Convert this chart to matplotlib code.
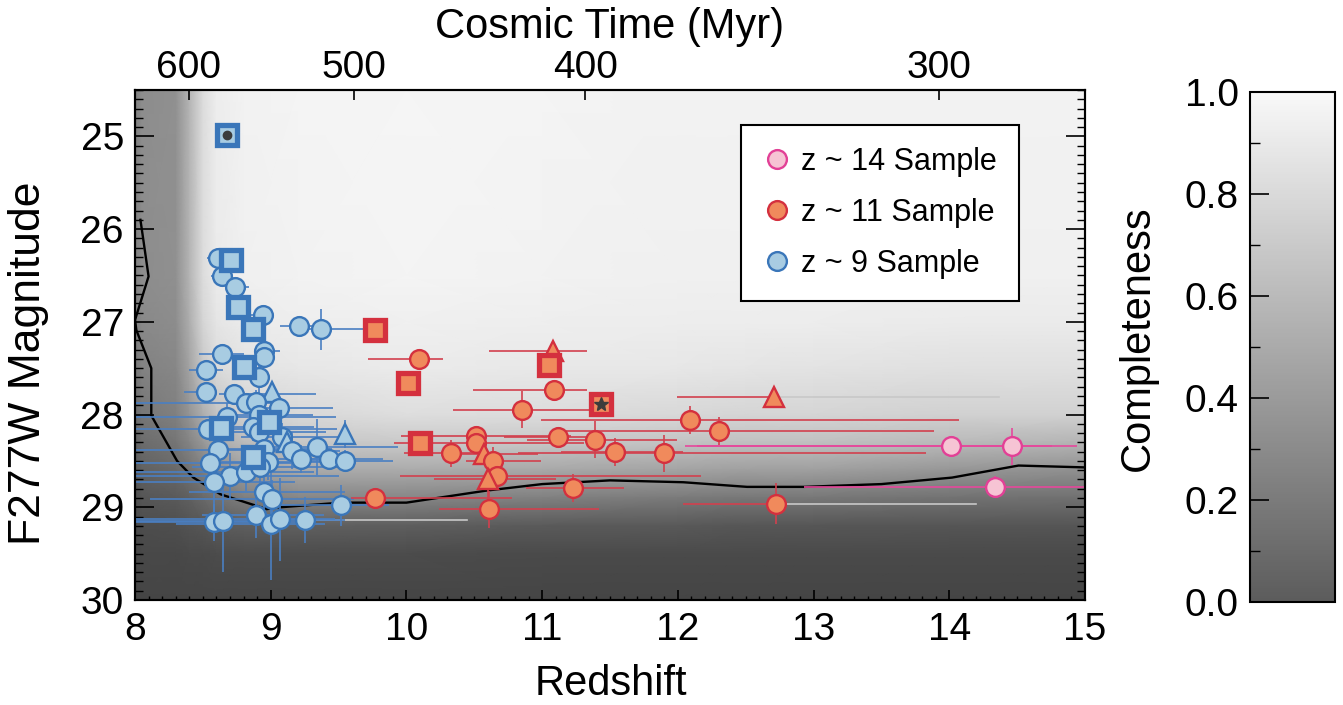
import numpy as np
import matplotlib
matplotlib.use("Agg")
import matplotlib.pyplot as plt
from matplotlib.colors import LinearSegmentedColormap, Normalize
from matplotlib.cm import ScalarMappable
from matplotlib.lines import Line2D
from matplotlib.ticker import MultipleLocator, FixedLocator

plt.rcParams['font.family'] = ['Liberation Sans', 'DejaVu Sans']

# ---------------- data ----------------
# z~9 sample
z9_z = [8.675, 8.61, 8.71, 8.64, 8.74, 8.76, 8.94, 8.87, 9.21, 9.37,
        8.64, 8.95, 8.95, 8.80, 8.52, 8.91, 8.52, 8.73, 9.01, 8.82,
        8.89, 9.06, 8.68, 8.91, 8.99, 8.63, 8.54, 8.87, 8.91, 9.08,
        9.12, 9.16, 9.22, 9.34, 9.43, 9.55, 9.55, 8.61, 8.87, 8.95,
        8.98, 8.55, 8.70, 8.82, 8.92, 8.58, 8.95, 9.01, 9.52, 8.89,
        8.58, 8.65, 9.00, 9.07, 9.25]
z9_mag = [24.98, 26.31, 26.33, 26.51, 26.62, 26.84, 26.93, 27.08, 27.04, 27.08,
          27.35, 27.31, 27.38, 27.49, 27.52, 27.59, 27.76, 27.78, 27.76, 27.88,
          27.86, 27.93, 28.03, 28.01, 28.08, 28.14, 28.16, 28.13, 28.19, 28.24,
          28.30, 28.39, 28.48, 28.35, 28.48, 28.50, 28.21, 28.38, 28.46, 28.37,
          28.51, 28.52, 28.66, 28.62, 28.57, 28.73, 28.84, 28.91, 28.98, 29.08,
          29.16, 29.15, 29.18, 29.13, 29.14]
z9_shape = ['s', 'o', 's', 'o', 'o', 's', 'o', 's', 'o', 'o',
            'o', 'o', 'o', 's', 'o', 'o', 'o', 'o', '^', 'o',
            'o', 'o', 'o', 'o', 's', 's', 'o', 'o', 'o', 'o',
            '^', 'o', 'o', 'o', 'o', 'o', '^', 'o', 's', 'o',
            'o', 'o', 'o', 'o', 'o', 'o', 'o', 'o', 'o', 'o',
            'o', 'o', 'o', 'o', 'o']
z9_zlo = [0, .08, 0, .08, .04, 0, .09, 0, .14, .16,
          .17, .07, .05, 0, .12, .05, .16, .11, 0, .82,
          .08, .20, .68, .30, 0, 0, .54, .30, .40, .30,
          0, .25, .30, .50, .30, .25, 0, .61, 0, .40,
          .35, .55, .70, .82, .50, .58, .55, .90, .55, .40,
          .58, .65, .70, 1.07, .20]
z9_zhi = [0, .04, 0, .04, .10, 0, .04, 0, .10, .40,
          .16, .12, .08, 0, .13, .05, .08, .60, 0, .20,
          .15, .40, .80, .40, 0, 0, .95, .45, .50, .45,
          0, .35, .40, .60, .40, .35, 0, .80, 0, .50,
          .45, .75, .80, .50, .60, .60, .60, .60, .35, .50,
          .70, .50, .40, .40, .30]
z9_magerr = [0, .03, 0, .03, .03, 0, .08, 0, .04, .22,
             .05, .05, .05, 0, .05, .30, .05, .05, 0, .10,
             .12, .08, .15, .15, 0, 0, .10, .15, .20, .15,
             0, .20, .15, .30, .12, .12, .15, .15, 0, .15,
             .20, .15, .25, .20, .25, .55, .25, .20, .22, .25,
             .20, .55, .60, .45, .25]

# z~11 sample
z11_z = [9.77, 10.09, 10.01, 11.08, 11.05, 11.09, 10.85, 11.43, 12.09, 10.10,
         10.33, 10.51, 10.51, 10.57, 10.64, 10.67, 10.60, 11.12, 11.39, 11.54,
         11.90, 12.30, 11.23, 9.77, 10.61, 12.71, 12.72]
z11_mag = [27.09, 27.40, 27.66, 27.31, 27.47, 27.74, 27.95, 27.89, 28.06, 28.31,
           28.42, 28.23, 28.31, 28.43, 28.50, 28.66, 28.69, 28.24, 28.27, 28.40,
           28.42, 28.18, 28.79, 28.90, 29.02, 27.81, 28.96]
z11_shape = ['s', 'o', 's', '^', 's', 'o', 'o', 's', 'o', 's',
             'o', 'o', 'o', '^', 'o', 'o', '^', 'o', 'o', 'o',
             'o', 'o', 'o', 'o', 'o', '^', 'o']
z11_zlo = [0, .37, 0, .47, 0, .60, .51, 0, 1.10, 0,
           .35, .55, .60, .30, .20, .72, .40, .40, .50, .40,
           1.08, 1.20, .35, .18, .37, .72, .68]
z11_zhi = [0, .18, 0, .25, 0, .24, .50, 0, 1.98, 0,
           .30, .70, .80, .40, .35, 1.50, .50, .30, .60, .50,
           1.93, 1.59, .37, 1.01, .81, 0, 0]
z11_magerr = [0, .05, 0, 0, 0, .06, .20, 0, .15, 0,
              .15, .10, .10, 0, .15, .12, .30, .10, .20, .15,
              .20, .15, .15, .10, .20, 0, .22]

# z~14 sample
z14_z = [14.01, 14.46, 14.34]
z14_mag = [28.34, 28.34, 28.78]
z14_zlo = [1.96, 2.32, 1.41]
z14_zhi = [0.93, 0.30, 0.80]
z14_magerr = [0.08, 0.20, 0.12]

# faint (light grey) error-bar extensions: magnitude, z start, z end
faint_mag = [29.14, 27.81, 28.96]
faint_z0 = [9.25, 12.71, 12.72]
faint_z1 = [10.45, 14.37, 14.20]

# 50% completeness curve
curve_z = [8.04, 8.05, 8.10, 8.00, 8.01, 8.12, 8.12, 8.31, 8.43, 8.63, 8.97, 9.07,
           9.52, 10.0, 10.59, 11.0, 11.5, 12.04, 12.51, 12.93, 13.5, 14.02,
           14.51, 15.0]
curve_mag = [25.9, 26.0, 26.51, 26.98, 27.09, 27.50, 28.01, 28.50, 28.68, 28.86,
             29.02, 29.0, 28.95, 28.95, 28.82, 28.75, 28.71, 28.73, 28.78, 28.78,
             28.75, 28.68, 28.55, 28.57]

# completeness map (rows: magnitude nodes, columns: redshift nodes)
comp_z = [8.0, 8.05, 8.3, 8.4, 8.5, 8.6, 8.8, 9.2, 10.0, 11.0, 12.0, 12.5, 13.0, 14.0, 15.0]
comp_mag = [24.5, 26.5, 27.0, 27.5, 28.0, 28.3, 28.6, 28.9, 29.2, 29.5, 30.0]
comp_vals = [
    [.33, .40, .42, .62, .84, .93, .96, .97, .98, .97, .96, .96, .96, .96, .96],
    [.33, .40, .42, .62, .84, .92, .95, .96, .97, .96, .95, .95, .95, .95, .95],
    [.32, .38, .40, .58, .80, .89, .92, .94, .95, .94, .93, .93, .93, .92, .92],
    [.28, .34, .37, .52, .72, .83, .88, .90, .92, .91, .90, .89, .88, .86, .86],
    [.22, .28, .33, .44, .58, .70, .78, .82, .85, .84, .82, .80, .80, .78, .78],
    [.16, .22, .27, .35, .46, .56, .66, .72, .74, .72, .70, .68, .68, .65, .62],
    [.11, .16, .20, .25, .32, .40, .50, .56, .57, .55, .52, .50, .50, .45, .42],
    [.06, .10, .12, .15, .20, .25, .32, .36, .36, .33, .30, .28, .28, .25, .24],
    [.03, .05, .06, .08, .10, .12, .14, .15, .14, .12, .11, .10, .10, .09, .09],
    [.01, .02, .02, .03, .03, .04, .04, .04, .04, .03, .03, .03, .03, .03, .03],
    [.00, .00, .00, .00, .00, .00, .00, .00, .00, .00, .00, .00, .00, .00, .00],
]

time_ticks = [600, 500, 400, 300]

# ---------------- style ----------------
BLUE_F, BLUE_E, BLUE_L = '#a8cce2', '#3a76b9', '#4a7fc2'
RED_F, RED_E, RED_L = '#f08a5c', '#d4303e', '#d2404e'
PINK_F, PINK_E, PINK_L = '#f6c4d4', '#e24096', '#e6489c'

fig = plt.figure(figsize=(13.43, 7.05), dpi=100)
ax = fig.add_axes([135 / 1343, 105 / 705, 950 / 1343, 510 / 705])
cax = fig.add_axes([1250 / 1343, 103 / 705, 85 / 1343, 510 / 705])

cmap_map = LinearSegmentedColormap.from_list('g1', [(0.27, 0.27, 0.27), (0.975, 0.975, 0.975)])
cmap_bar = LinearSegmentedColormap.from_list('g2', [(0.36, 0.36, 0.36), (0.975, 0.975, 0.975)])

Z, M = np.meshgrid(comp_z, comp_mag)
ax.pcolormesh(Z, M, np.array(comp_vals), cmap=cmap_map, vmin=0, vmax=1,
              shading='gouraud', zorder=0, rasterized=True)

ax.plot(curve_z, curve_mag, color='black', lw=1.7, zorder=2)

# faint extensions
for m, a, b in zip(faint_mag, faint_z0, faint_z1):
    ax.plot([a, b], [m, m], color='#c8c8c8', lw=1.2, zorder=2.5)


def draw_sample(zs, ms, shapes, zlo, zhi, merr, fc, ec, lc):
    zs = np.asarray(zs); ms = np.asarray(ms)
    ax.errorbar(zs, ms, xerr=[zlo, zhi], yerr=merr, fmt='none', ecolor=lc,
                elinewidth=1.2, capsize=0, zorder=3)
    for z, m, s in zip(zs, ms, shapes):
        if s == 'o':
            ax.plot(z, m, 'o', ms=13.5, mfc=fc, mec=ec, mew=1.7, zorder=4)
        elif s == 's':
            ax.plot(z, m, 's', ms=14, mfc=fc, mec=ec, mew=3.8, zorder=5)
        else:
            ax.plot(z, m, '^', ms=14.5, mfc=fc, mec=ec, mew=1.7, zorder=4)


draw_sample(z9_z, z9_mag, z9_shape, z9_zlo, z9_zhi, z9_magerr, BLUE_F, BLUE_E, BLUE_L)
draw_sample(z11_z, z11_mag, z11_shape, z11_zlo, z11_zhi, z11_magerr, RED_F, RED_E, RED_L)
draw_sample(z14_z, z14_mag, ['o'] * len(z14_z), z14_zlo, z14_zhi, z14_magerr, PINK_F, PINK_E, PINK_L)

# special inner symbols
ax.plot(z9_z[0], z9_mag[0], 'o', ms=6, color='#3c3c3c', zorder=6)
ax.plot(z11_z[7], z11_mag[7], '*', ms=10, color='#3c3c3c', zorder=6)

ax.set_xlim(8, 15)
ax.set_ylim(30, 24.5)
ax.xaxis.set_major_locator(MultipleLocator(1))
ax.xaxis.set_minor_locator(MultipleLocator(0.1))
ax.yaxis.set_major_locator(MultipleLocator(1))
ax.yaxis.set_minor_locator(MultipleLocator(0.1))
ax.tick_params(axis='x', which='major', direction='in', length=7.5, width=1.2,
               labelsize=28, pad=9, top=False, bottom=True)
ax.tick_params(axis='x', which='minor', direction='in', length=3, width=1.0, top=False)
ax.tick_params(axis='y', which='major', direction='in', length=14, width=1.2,
               labelsize=28, pad=8, left=True, right=True)
ax.tick_params(axis='y', which='minor', direction='in', length=6, width=1.0,
               left=True, right=True)
for sp in ax.spines.values():
    sp.set_linewidth(1.5)

# top axis: cosmic time
H0_myr = 977.8e3 / 67.7  # 1/H0 in Myr
Om, OL = 0.31, 0.69


def age_to_z(t):
    x = np.sinh(np.asarray(t) * 1.5 * np.sqrt(OL) / H0_myr)
    return (np.sqrt(OL / Om) / x) ** (2.0 / 3.0) - 1.0


axt = ax.twiny()
axt.set_xlim(8, 15)
axt.xaxis.set_major_locator(FixedLocator(age_to_z(time_ticks)))
axt.set_xticklabels([str(t) for t in time_ticks])
axt.tick_params(axis='x', which='major', direction='in', length=7.5, width=1.2,
                labelsize=28, pad=3)
axt.xaxis.set_minor_locator(FixedLocator([]))
for sp in axt.spines.values():
    sp.set_linewidth(1.5)

# legend
handles = [
    Line2D([], [], marker='o', ls='none', ms=13.5, mfc=PINK_F, mec=PINK_E, mew=1.7),
    Line2D([], [], marker='o', ls='none', ms=13.5, mfc=RED_F, mec=RED_E, mew=1.7),
    Line2D([], [], marker='o', ls='none', ms=13.5, mfc=BLUE_F, mec=BLUE_E, mew=1.7),
]
leg = ax.legend(handles, ['z ~ 14 Sample', 'z ~ 11 Sample', 'z ~ 9 Sample'],
                loc='upper left', bbox_to_anchor=(0.638, 0.931), fontsize=22,
                frameon=True, fancybox=False, framealpha=1, edgecolor='black',
                handletextpad=0.35, labelspacing=0.68, borderpad=0.72,
                handlelength=0.9, borderaxespad=0)
leg.get_frame().set_linewidth(1.5)
leg.set_zorder(10)

# colorbar
sm = ScalarMappable(norm=Normalize(0, 1), cmap=cmap_bar)
cb = fig.colorbar(sm, cax=cax)
cb.outline.set_linewidth(1.5)
cax.yaxis.set_ticks_position('left')
cax.yaxis.set_label_position('left')
cb.set_ticks([0, 0.2, 0.4, 0.6, 0.8, 1.0])
cb.set_ticklabels(['0.0', '0.2', '0.4', '0.6', '0.8', '1.0'])
cax.yaxis.set_minor_locator(MultipleLocator(0.1))
cax.tick_params(which='major', direction='in', length=14, width=1.2, labelsize=28, pad=8,
                left=True, right=False)
cax.tick_params(which='minor', direction='in', length=7, width=1.0, left=True, right=False)

# axis titles
fig.text(611 / 1343, 1 - 684 / 705, 'Redshift', ha='center', va='center', fontsize=30)
fig.text(610 / 1343, 1 - 27 / 705, 'Cosmic Time (Myr)', ha='center', va='center', fontsize=30)
fig.text(29 / 1343, 1 - 363 / 705, 'F277W Magnitude', ha='center', va='center',
         rotation=90, fontsize=32)
fig.text(1138 / 1343, 1 - 338 / 705, 'Completeness', ha='center', va='center',
         rotation=90, fontsize=30)

fig.savefig('out.png', dpi=100)
